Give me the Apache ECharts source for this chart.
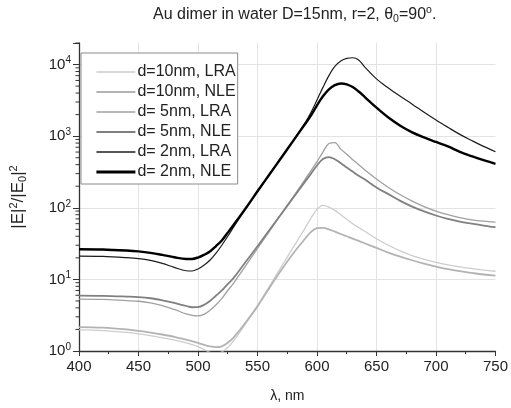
<!DOCTYPE html>
<html>
<head>
<meta charset="utf-8">
<script src="https://cdn.jsdelivr.net/npm/echarts@6/dist/echarts.min.js"></script>
<style>
  html, body { margin: 0; padding: 0; background: #fff; }
  #chart { width: 511px; height: 408px; }
</style>
</head>
<body>
<div id="chart"></div>
<script>
// wavelength grid, nm
const lambda = [400, 420, 440, 450, 460, 470, 480, 490, 495, 500, 505, 510, 515, 520, 525, 530,
  540, 550, 560, 570, 580, 590, 595, 600, 605, 610, 615, 620, 625, 630, 635, 640,
  650, 660, 670, 680, 690, 700, 710, 720, 730, 740, 750]

// |E|^2/|E0|^2
const lra10 = [1.97, 1.93, 1.82, 1.74, 1.64, 1.53, 1.42, 1.30, 1.23, 1.15, 1.05, 0.96, 0.92, 0.97, 1.12, 1.4,
  2.4, 4.3, 8.0, 15, 28, 52, 72, 95, 108, 102, 92, 80, 69, 60, 53, 47,
  37, 30, 25, 21.5, 19, 17.3, 16, 15, 14.2, 13.5, 13.0]
const nle10 = [2.16, 2.12, 2.0, 1.91, 1.81, 1.70, 1.58, 1.44, 1.37, 1.30, 1.22, 1.16, 1.13, 1.16, 1.3, 1.55,
  2.5, 4.2, 7.6, 13.5, 23, 37, 46, 52, 52.5, 50, 46.5, 43, 40, 37, 34.5, 32,
  27.5, 23.7, 20.8, 18.5, 16.6, 15.1, 13.9, 13.0, 12.3, 11.7, 11.3]
const lra5 = [5.3, 5.25, 5.05, 4.95, 4.7, 4.3, 3.8, 3.3, 3.15, 3.1, 3.25, 3.7, 4.4, 5.4, 7.0, 8.9,
  15.5, 27, 47, 82, 142, 250, 330, 440, 600, 790, 815, 660, 560, 470, 400, 340,
  252, 192, 152, 124, 104, 90, 80, 73, 68, 65, 63]
const nle5 = [5.95, 5.9, 5.75, 5.65, 5.45, 5.1, 4.7, 4.25, 4.08, 4.1, 4.4, 5.0, 5.9, 7.0, 8.6, 10.5,
  17.5, 29, 49, 82, 138, 232, 300, 390, 480, 510, 475, 420, 365, 320, 280, 250,
  192, 155, 125, 104, 89, 78, 70, 64, 60, 56.5, 53.6]
const lra2 = [21.1, 20.9, 20.1, 19.5, 18.4, 16.7, 14.7, 13.2, 13.1, 14.0, 15.8, 18.5, 23, 30, 40, 54,
  96, 168, 292, 505, 870, 1530, 2150, 3200, 4800, 7000, 9400, 11200, 12200, 12450, 11600, 9300,
  6300, 4700, 3600, 2800, 2150, 1680, 1330, 1060, 870, 720, 606]
const nle2 = [26.4, 26.2, 25.3, 24.6, 23.5, 22.0, 20.4, 19.3, 19.3, 20.2, 22, 24.5, 29, 35, 45, 58,
  98, 170, 292, 500, 860, 1480, 1950, 2700, 3600, 4500, 5150, 5450, 5300, 4850, 4200, 3550,
  2500, 1820, 1400, 1130, 960, 830, 720, 605, 525, 462, 411]

const seriesNames = ['d=10nm, LRA', 'd=10nm, NLE', 'd= 5nm, LRA', 'd= 5nm, NLE', 'd= 2nm, LRA', 'd= 2nm, NLE']
const seriesData = [lra10, nle10, lra5, nle5, lra2, nle2]
const lineColors = ['#cdcdcd', '#b3b3b3', '#a0a0a0', '#808080', '#1c1c1c', '#000000']
const lineWidths = [1.3, 1.8, 1.3, 1.8, 1.2, 2.4]

// log-axis minor ticks (2..9 per decade)
const minorTicks = [2, 3, 4, 5, 6, 7, 8, 9, 20, 30, 40, 50, 60, 70, 80, 90,
  200, 300, 400, 500, 600, 700, 800, 900, 2000, 3000, 4000, 5000, 6000, 7000, 8000, 9000, 20000]

const font = 'Liberation Sans, Arial, sans-serif'
const axisColor = '#333'
const gridColor = '#e3e3e3'

const series = seriesNames.map((name, i) => ({
  name: name,
  type: 'line',
  smooth: 0.35,
  symbol: 'none',
  lineStyle: {color: lineColors[i], width: lineWidths[i]},
  itemStyle: {color: lineColors[i]},
  data: lambda.map((x, k) => [x, seriesData[i][k]])
}))

series.push({
  type: 'custom',
  silent: true,
  clip: false,
  data: minorTicks.map(v => [400, v]),
  renderItem: function (params, api) {
    const p = api.coord([api.value(0), api.value(1)])
    return {
      type: 'line',
      shape: {x1: p[0] - 3.5, y1: p[1], x2: p[0], y2: p[1]},
      style: {stroke: axisColor, lineWidth: 1}
    }
  }
})

const option = {
  animation: false,
  title: {
    text: 'Au dimer in water D=15nm, r=2, θ{sub|0}=90{sup|o}.',
    left: 148,
    top: 0,
    textStyle: {
      fontFamily: font,
      fontSize: 16,
      fontWeight: 'normal',
      color: '#222',
      lineHeight: 20,
      rich: {
        sub: {fontFamily: font, fontSize: 10.5, color: '#222', verticalAlign: 'bottom', lineHeight: 13},
        sup: {fontFamily: font, fontSize: 10.5, color: '#222', verticalAlign: 'top', lineHeight: 10}
      }
    }
  },
  legend: {
    orient: 'vertical',
    left: 81,
    top: 53,
    data: seriesNames.map((name, i) => ({
      name: name,
      lineStyle: {color: lineColors[i], width: lineWidths[i] + 0.4}
    })),
    itemWidth: 39,
    itemHeight: 14,
    itemGap: 4,
    padding: [11, 2, 4, 14],
    backgroundColor: '#fff',
    borderColor: '#8a8a8a',
    borderWidth: 1,
    itemStyle: {opacity: 0},
    textStyle: {fontFamily: font, fontSize: 16, color: '#222', lineHeight: 14, padding: [0, 0, 0, -3]}
  },
  grid: {left: 76.5, right: 14.5, top: 43, bottom: 53, containLabel: false},
  xAxis: {
    type: 'value',
    min: 400,
    max: 750,
    interval: 50,
    name: 'λ, nm',
    nameLocation: 'middle',
    nameGap: 38,
    nameTextStyle: {fontFamily: font, fontSize: 14, color: '#222'},
    axisLine: {lineStyle: {color: axisColor, width: 1.3}},
    axisTick: {inside: false, length: 5, lineStyle: {color: axisColor}},
    minorTick: {show: true, splitNumber: 2, length: 3, lineStyle: {color: axisColor}},
    axisLabel: {fontFamily: font, fontSize: 15, color: '#222', margin: 8},
    splitLine: {show: true, showMinLine: false, showMaxLine: false, lineStyle: {color: gridColor, width: 1}}
  },
  yAxis: {
    type: 'log',
    logBase: 10,
    min: 1,
    max: 20000,
    name: '|E|{sup|2}/|E{sub|0}|{sup|2}',
    nameLocation: 'middle',
    nameGap: 51,
    nameRotate: 90,
    nameTextStyle: {
      fontFamily: font, fontSize: 17, color: '#222', lineHeight: 20,
      rich: {
        sub: {fontFamily: font, fontSize: 11, color: '#222', verticalAlign: 'bottom', lineHeight: 14},
        sup: {fontFamily: font, fontSize: 11, color: '#222', verticalAlign: 'top', lineHeight: 11}
      }
    },
    axisLine: {show: true, lineStyle: {color: axisColor, width: 1.3}},
    axisTick: {show: true, inside: false, length: 6, lineStyle: {color: axisColor}},
    axisLabel: {
      fontFamily: font, fontSize: 15, color: '#222', margin: 8, lineHeight: 18,
      formatter: function (value) {
        const e = Math.round(Math.log10(value))
        if (Math.abs(Math.pow(10, e) - value) > 1e-6 * value) return ''
        return '10{s|' + e + '}'
      },
      rich: {
        s: {fontFamily: font, fontSize: 10, color: '#222', verticalAlign: 'top', lineHeight: 10}
      }
    },
    splitLine: {show: true, showMinLine: false, showMaxLine: false, lineStyle: {color: gridColor, width: 1}}
  },
  series: series
}

const chartDom = document.getElementById('chart')
const myChart = echarts.init(chartDom)
option && myChart.setOption(option)
</script>
</body>
</html>
